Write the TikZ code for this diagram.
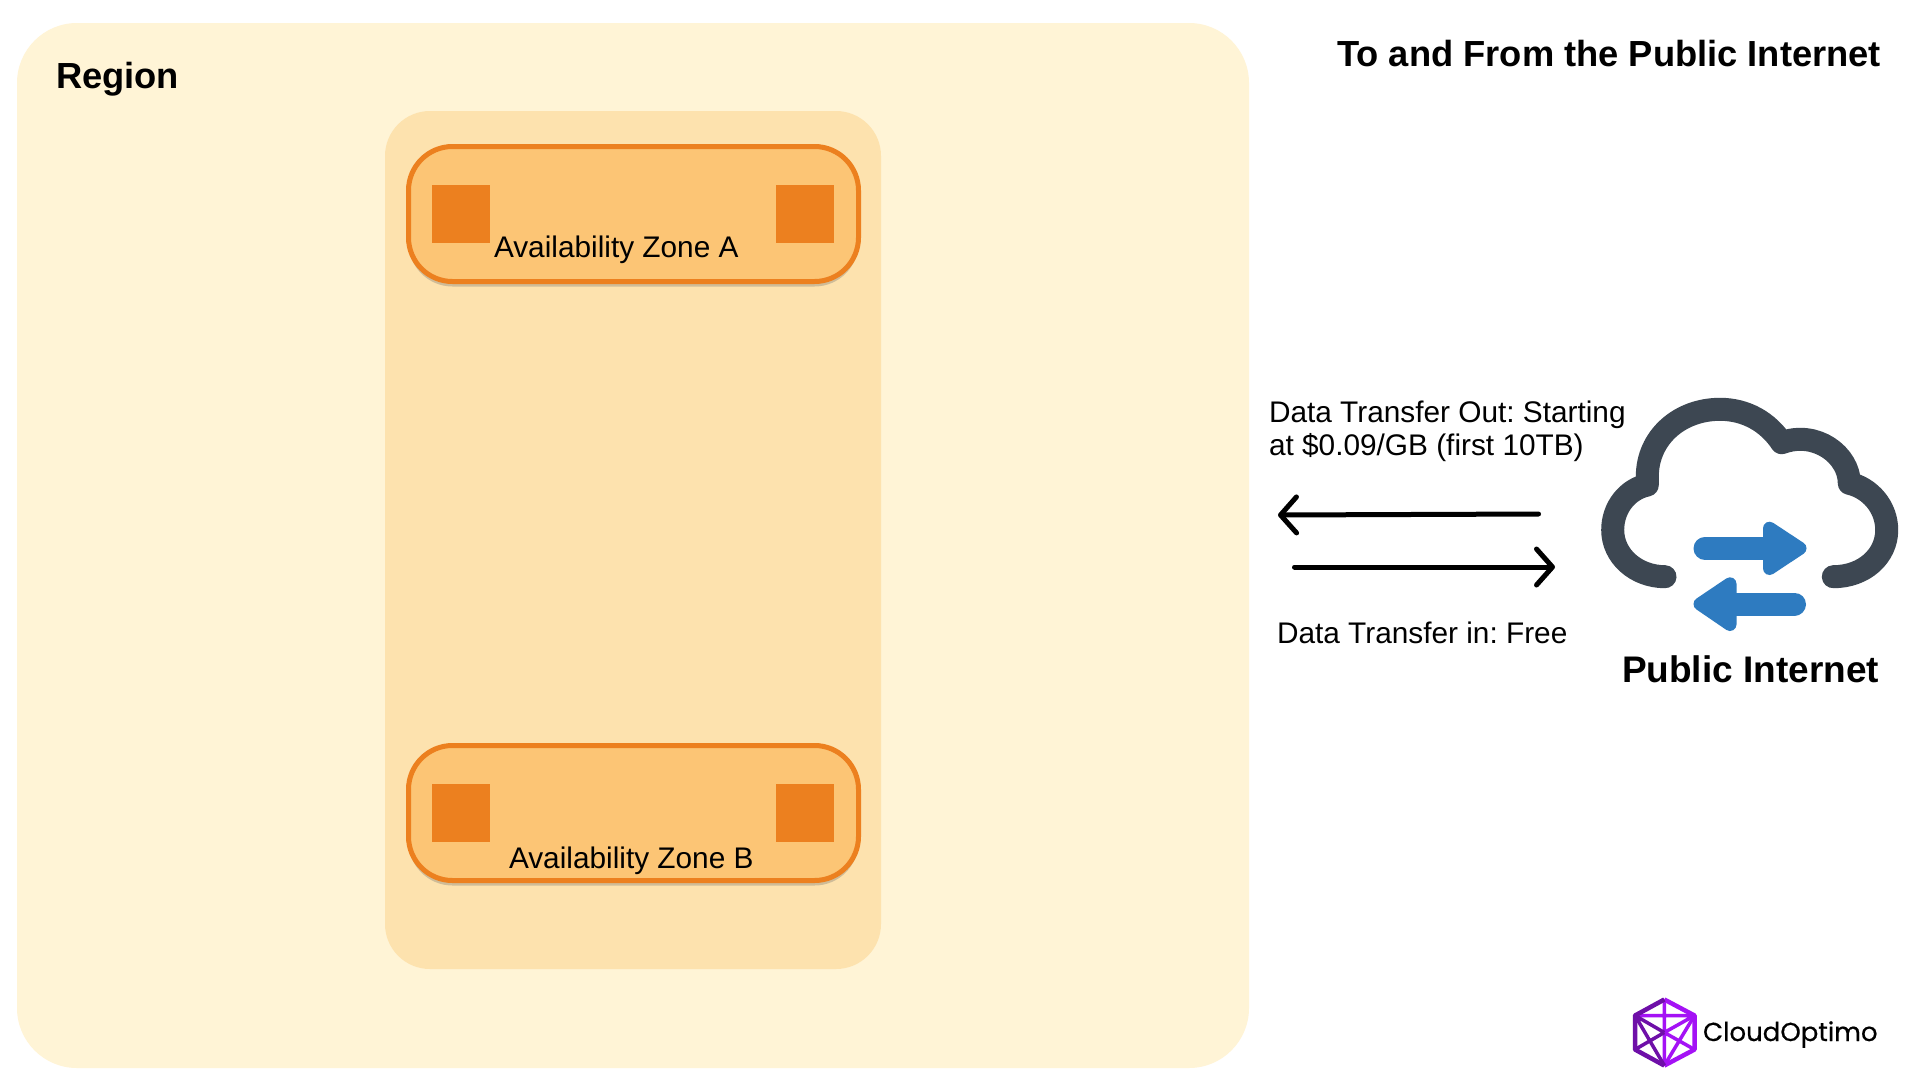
\documentclass[tikz,border=0pt]{standalone}
\usepackage{fontspec}
\setmainfont{Liberation Sans}
\newfontfamily\logofont[FakeBold=0.5]{Poppins}
\usepackage{tikz}
\usetikzlibrary{ arrows.meta, positioning, shadows }
\definecolor{regionfill}{HTML}{FFF4D6}
\definecolor{vpcfill}{HTML}{FDE2AE}
\definecolor{zonefill}{HTML}{FCC575}
\definecolor{zoneline}{HTML}{EC801F}
\definecolor{cloudgray}{HTML}{3D4752}
\definecolor{cloudblue}{HTML}{2E7BC0}
\definecolor{logopurple}{HTML}{A412F5}
\definecolor{logodark}{HTML}{6E0FA8}
\tikzset{
  >={Straight Barb[length=16pt,width=36pt,round]}, % open arrow heads
  every node/.style={inner sep=0pt, outer sep=0pt},
  label/.style={anchor=base west, font=\fontsize{29.8}{36}\selectfont\frenchspacing},
  heading/.style={anchor=base west, font=\fontsize{36.3}{44}\selectfont\bfseries},
  zone/.style={draw=zoneline, fill=zonefill, line width=5pt, rounded corners=44pt,
    minimum width=450pt, minimum height=135pt,
    drop shadow={shadow xshift=0pt, shadow yshift=-5pt, opacity=0.3, fill=black!60}},
  subnet/.style={fill=zoneline, minimum size=58pt},
  cloudline/.style={draw=cloudgray, line width=23pt, line cap=round, line join=round},
  bluearrow/.style={draw=cloudblue, line width=23pt, line cap=round},
  bluehead/.style={draw=cloudblue, fill=cloudblue, line width=13pt, line join=round},
  logoline/.style={draw=logopurple, line width=3.5pt},
}

\begin{document}
\begin{tikzpicture}[x=1pt, y=-1pt]
  \useasboundingbox (0,0) rectangle (1920,1080);
  \fill[white] (0,0) rectangle (1920,1080);

  % region and the box inside it
  \node[fill=regionfill, rounded corners=60pt, minimum width=1232pt, minimum height=1045pt] (region) at (633,545.5) {};
  \node[fill=vpcfill, rounded corners=45pt, minimum width=496pt, minimum height=858pt] (vpc) at (633,540) {};
  \node[heading] (regionlabel) at (56,88) {Region};

  % availability zones
  \node[zone] (zoneA) at (633.5,214) {};
  \node[subnet, right=23.5pt of zoneA.west] (subnetA1) {};
  \node[subnet, left=24.5pt of zoneA.east] (subnetA2) {};
  \node[label] (zoneAlabel) at (494,257) {Availability Zone A};

  \node[zone] (zoneB) at (633.5,813) {};
  \node[subnet, right=23.5pt of zoneB.west] (subnetB1) {};
  \node[subnet, left=24.5pt of zoneB.east] (subnetB2) {};
  \node[label] (zoneBlabel) at (509,868) {Availability Zone B};

  % transfer arrows
  \coordinate (outstart) at (1538.5,514);
  \coordinate (outend) at (1278,515);
  \coordinate (instart) at (1294.5,567);
  \coordinate (inend) at (1555,567);
  \draw[->, line width=5pt, line cap=round] (outstart) -- (outend);
  \draw[->, line width=5pt, line cap=round] (instart) -- (inend);

  \node[heading, anchor=base east] (title) at (1881,66) {To and From the Public Internet};
  \node[label] (outlabel) at (1269,422) {Data Transfer Out: Starting};
  \node[label] (outlabel2) at (1269,455.5) {at \$0.09/GB (first 10TB)};
  \node[label] (inlabel) at (1277,643) {Data Transfer in: Free};
  \node[heading, font=\fontsize{37}{44}\selectfont\bfseries] (publiclabel) at (1622,682) {Public Internet};

  % cloud icon
  \draw[cloudline] (1665,576.7)
    .. controls (1636,576.7) and (1612.7,556) .. (1612.7,530)
    .. controls (1612.7,507) and (1628,489) .. (1647.3,485)
    -- (1647.3,476.7)
    .. controls (1647.3,437) and (1680,409.3) .. (1720,409.3)
    .. controls (1746,409.3) and (1768,422) .. (1781.7,442.7)
    .. controls (1816,430) and (1849.3,455) .. (1849.3,483.3)
    .. controls (1870,488) and (1886.7,507) .. (1886.7,530)
    .. controls (1886.7,556) and (1864,576.7) .. (1833.3,576.7);
  \draw[bluearrow] (1705,548.3) -- (1770,548.3);
  \draw[bluehead] (1769.5,528.2) -- (1800,548.3) -- (1769.5,568.5) -- cycle;
  \draw[bluearrow] (1794.5,604) -- (1730,604);
  \draw[bluehead] (1730,583.8) -- (1700,604) -- (1730,624.5) -- cycle;

  % logo
  \coordinate (hexT) at (1664.3,999.5);
  \coordinate (hexB) at (1664.3,1065.5);
  \coordinate (hexUL) at (1635,1015.5);
  \coordinate (hexLL) at (1635,1049.5);
  \coordinate (hexUR) at (1694.5,1015.5);
  \coordinate (hexLR) at (1694.5,1049.5);
  \coordinate (hexC) at (1664.3,1032.5);
  \draw[logoline, line width=4.5pt, line join=round] (hexT) -- (hexUR) -- (hexLR) -- (hexB);
  \draw[logoline] (hexT) -- (hexB) (hexC) -- (hexUR) (hexLR) -- (hexC) (hexUL) -- (hexUR);
  \draw[logoline] (hexB) -- (hexUR);
  \draw[draw=logodark, line width=4.5pt, line join=round] (hexT) -- (hexUL) -- (hexLL) -- (hexB);
  \draw[draw=logodark, line width=3.5pt] (hexC) -- (hexUL) (hexB) -- (hexUL) (hexC) -- (hexLL);
  \node[anchor=base west, font=\logofont\fontsize{26}{32}\selectfont] (logotext) at (1703,1041) {CloudOptimo};
\end{tikzpicture}
\end{document}
